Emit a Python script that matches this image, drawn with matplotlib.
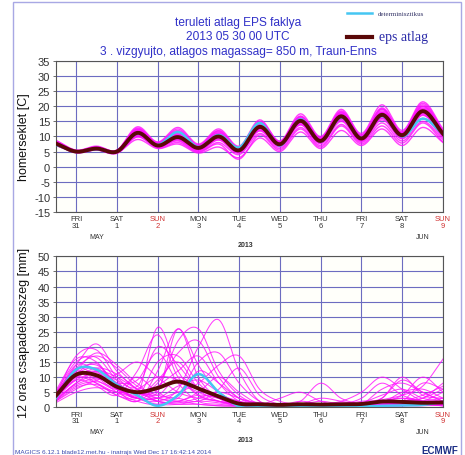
#!/usr/bin/env python3
# -*- coding: utf-8 -*-

import numpy as np
import matplotlib
matplotlib.use("Agg")
import matplotlib.pyplot as plt
from matplotlib.lines import Line2D
from matplotlib.patches import Rectangle
import matplotlib.transforms as mtransforms

# ====== DATA ======
# time axis: days since 2013-05-30 00 UTC, 12-hourly steps
steps = [0.5, 1.0, 1.5, 2.0, 2.5, 3.0, 3.5, 4.0, 4.5, 5.0,
         5.5, 6.0, 6.5, 7.0, 7.5, 8.0, 8.5, 9.0, 9.5, 10.0]

day_ticks = [1, 2, 3, 4, 5, 6, 7, 8, 9, 10]
day_names = ["FRI", "SAT", "SUN", "MON", "TUE", "WED", "THU", "FRI", "SAT", "SUN"]
day_nums = ["31", "1", "2", "3", "4", "5", "6", "7", "8", "9"]

# homerseklet [C]
temp_mean = [7.7, 5.0, 6.0, 5.0, 11.2, 7.0, 9.8, 6.2, 10.0, 5.4,
             13.2, 7.4, 15.2, 8.5, 16.7, 9.3, 17.2, 10.4, 18.4, 10.9]
temp_det = [7.3, 5.0, 5.8, 5.0, 11.0, 7.2, 11.5, 6.5, 10.5, 6.4,
            14.5, 7.0, 15.7, 8.3, 16.3, 9.5, 16.8, 10.0, 15.9, 10.8]
temp_members = [
    [8.5, 5.2, 6.3, 5.1, 12.0, 7.5, 10.5, 6.5, 11.0, 5.8, 14.0, 8.0, 16.0, 9.0, 17.5, 9.8, 18.0, 11.0, 19.5, 11.5],
    [7.0, 4.8, 5.7, 4.8, 10.5, 6.8, 9.0, 5.5, 9.0, 4.5, 12.0, 6.8, 14.0, 7.8, 15.5, 8.5, 16.0, 9.5, 17.0, 10.0],
    [8.0, 5.1, 6.5, 5.3, 12.8, 7.8, 12.5, 7.0, 12.0, 6.5, 15.0, 8.2, 16.8, 9.5, 18.5, 10.5, 19.5, 11.5, 21.0, 12.0],
    [7.5, 4.9, 5.9, 4.6, 9.0, 6.0, 7.5, 4.5, 6.5, 3.0, 9.5, 5.0, 11.5, 6.0, 12.0, 7.0, 12.5, 7.0, 13.0, 8.0],
    [8.2, 5.0, 6.0, 5.0, 11.5, 7.2, 10.0, 6.0, 10.5, 5.5, 13.5, 7.8, 15.5, 8.8, 17.0, 9.5, 17.5, 10.5, 18.5, 11.0],
    [7.8, 5.3, 6.6, 5.5, 13.2, 8.2, 13.0, 7.5, 12.5, 6.8, 15.5, 8.5, 17.5, 10.0, 19.0, 11.0, 20.5, 12.0, 21.5, 12.5],
    [7.2, 4.7, 5.5, 4.4, 10.0, 6.5, 8.5, 5.0, 8.0, 4.0, 11.0, 6.0, 13.0, 7.0, 14.0, 8.0, 14.5, 8.5, 15.0, 9.0],
    [8.0, 5.0, 6.1, 5.2, 11.0, 7.0, 9.5, 6.3, 10.0, 5.2, 13.0, 7.5, 15.0, 8.5, 16.5, 9.0, 17.0, 10.0, 18.0, 10.8],
    [7.6, 4.6, 5.6, 4.7, 10.8, 6.6, 9.2, 5.8, 9.5, 5.0, 12.5, 7.0, 14.5, 8.0, 16.0, 8.8, 16.5, 9.8, 17.5, 10.2],
    [8.8, 5.5, 6.8, 5.4, 12.5, 7.8, 11.5, 6.8, 11.5, 6.2, 14.5, 8.0, 16.5, 9.2, 18.0, 10.0, 19.0, 11.0, 20.0, 11.8],
    [7.3, 4.8, 5.8, 4.9, 11.2, 7.0, 10.2, 6.0, 10.2, 5.6, 13.2, 7.4, 15.2, 8.6, 16.8, 9.4, 17.2, 10.4, 18.2, 10.6],
    [8.3, 5.2, 6.2, 5.0, 10.2, 6.2, 8.0, 4.8, 7.5, 2.5, 10.5, 5.5, 12.5, 6.5, 13.5, 7.5, 13.5, 7.8, 14.5, 8.2],
    [7.9, 5.1, 6.4, 5.2, 11.8, 7.4, 10.8, 6.6, 10.8, 6.0, 14.2, 7.8, 15.8, 9.0, 17.2, 9.6, 18.0, 10.8, 19.0, 11.2],
    [7.1, 4.9, 5.9, 4.8, 10.6, 6.9, 9.8, 6.2, 9.8, 5.4, 12.8, 7.2, 14.8, 8.2, 16.2, 9.2, 16.8, 10.2, 17.8, 10.5],
    [8.6, 5.4, 6.5, 5.3, 12.2, 7.6, 11.0, 6.4, 11.2, 6.0, 14.8, 8.4, 16.2, 9.4, 17.8, 10.2, 18.5, 11.2, 20.0, 11.6],
    [7.4, 4.7, 5.6, 4.5, 9.8, 6.4, 8.8, 5.2, 8.8, 4.6, 11.8, 6.5, 13.8, 7.6, 15.0, 8.4, 15.5, 9.2, 16.0, 9.6],
    [8.1, 5.0, 6.0, 5.1, 11.4, 7.1, 10.0, 6.1, 10.4, 5.3, 13.6, 7.6, 15.4, 8.7, 16.6, 9.3, 17.4, 10.3, 18.6, 10.9],
    [7.7, 5.2, 6.3, 5.4, 12.4, 8.0, 12.0, 7.2, 11.8, 6.4, 14.6, 8.1, 16.6, 9.6, 18.2, 10.4, 19.2, 11.4, 20.5, 11.8],
    [7.5, 4.8, 5.7, 4.6, 10.4, 6.7, 9.4, 5.6, 9.2, 4.8, 12.2, 6.9, 14.2, 7.9, 15.6, 8.6, 16.2, 9.6, 17.2, 10.1],
    [8.4, 5.1, 6.2, 5.2, 11.6, 7.3, 10.4, 6.5, 10.6, 5.9, 13.8, 7.7, 15.6, 9.0, 17.4, 9.7, 17.8, 10.6, 19.2, 11.4],
]

# 12 oras csapadekosszeg [mm]
prec_mean = [3.8, 10.8, 10.6, 6.8, 5.0, 6.4, 8.5, 6.2, 3.6, 1.2,
             1.0, 0.8, 1.0, 0.9, 1.0, 1.1, 1.9, 1.8, 1.5, 1.6]
prec_det = [3.0, 12.5, 12.5, 7.5, 4.0, 0.5, 4.0, 11.0, 5.0, 0.3,
            0.2, 0.1, 0.1, 0.1, 0.2, 0.3, 0.5, 0.6, 0.8, 1.8]
prec_members = [
    [4.0, 14.0, 21.0, 12.0, 6.0, 3.0, 2.0, 4.0, 3.0, 1.0, 0.5, 0.5, 1.0, 0.5, 0.5, 1.0, 2.0, 3.0, 2.0, 1.0],
    [3.0, 12.0, 18.0, 14.0, 8.0, 5.0, 26.0, 10.0, 3.0, 1.0, 0.3, 0.2, 0.5, 0.5, 0.8, 1.5, 4.0, 6.0, 3.0, 2.0],
    [5.0, 15.0, 16.5, 9.0, 4.0, 26.5, 12.0, 4.0, 2.0, 0.5, 0.2, 0.5, 2.0, 1.0, 0.5, 0.5, 1.0, 1.5, 1.0, 0.5],
    [2.0, 8.0, 10.0, 6.0, 3.0, 2.0, 6.0, 20.0, 29.0, 12.0, 2.0, 1.0, 0.5, 0.3, 0.5, 1.0, 2.5, 4.0, 7.0, 16.0],
    [4.5, 11.0, 13.0, 8.0, 4.0, 2.0, 1.5, 3.0, 5.0, 3.0, 1.0, 0.5, 0.5, 1.0, 2.0, 5.0, 10.0, 6.0, 2.0, 1.0],
    [3.5, 9.0, 7.0, 4.0, 12.0, 24.0, 10.0, 5.0, 3.0, 1.0, 0.5, 0.5, 0.3, 0.3, 0.5, 1.0, 1.5, 2.0, 3.0, 8.0],
    [2.5, 7.0, 8.5, 6.0, 4.0, 8.0, 18.0, 22.0, 10.0, 3.0, 1.0, 1.0, 2.0, 8.0, 3.0, 1.0, 0.5, 0.5, 1.0, 2.0],
    [5.5, 16.0, 15.0, 7.0, 3.0, 1.0, 1.0, 2.0, 1.5, 0.5, 0.2, 0.2, 0.5, 1.0, 1.0, 2.0, 3.0, 10.0, 4.0, 3.0],
    [3.0, 10.0, 12.0, 9.0, 7.0, 20.0, 14.0, 6.0, 4.0, 2.0, 1.0, 3.0, 5.0, 2.0, 0.5, 0.5, 0.5, 1.0, 1.5, 1.0],
    [4.0, 13.0, 10.0, 5.0, 2.0, 1.0, 4.0, 15.0, 18.0, 8.0, 2.0, 0.5, 0.3, 0.3, 0.5, 0.8, 1.0, 2.0, 8.0, 6.0],
    [2.0, 6.0, 9.0, 11.0, 15.0, 10.0, 5.0, 3.0, 2.0, 1.0, 0.5, 0.3, 0.3, 0.5, 0.5, 1.0, 2.0, 3.0, 2.0, 1.5],
    [3.5, 12.0, 14.0, 8.0, 5.0, 6.0, 22.0, 26.0, 12.0, 4.0, 1.0, 0.5, 0.5, 0.5, 1.0, 0.5, 0.5, 0.8, 1.0, 0.5],
    [4.5, 10.0, 8.0, 5.0, 6.0, 10.0, 9.0, 4.0, 2.0, 1.0, 0.3, 0.2, 0.2, 0.3, 0.5, 1.0, 6.0, 8.0, 5.0, 2.0],
    [1.5, 5.0, 6.5, 5.0, 3.0, 3.0, 5.0, 8.0, 14.0, 17.0, 6.0, 2.0, 1.0, 0.5, 0.5, 0.5, 1.0, 1.0, 2.0, 5.0],
    [4.0, 17.0, 19.0, 10.0, 5.0, 3.0, 2.0, 1.0, 0.5, 0.3, 0.2, 0.2, 0.3, 0.3, 0.5, 1.0, 2.0, 4.0, 10.0, 5.0],
    [3.0, 9.0, 11.0, 7.0, 3.5, 15.0, 17.0, 8.0, 3.0, 1.0, 0.5, 0.5, 0.5, 1.0, 1.5, 1.0, 0.5, 0.5, 0.5, 1.0],
    [5.0, 12.0, 9.0, 6.0, 10.0, 5.0, 3.0, 12.0, 8.0, 3.0, 1.5, 1.0, 0.5, 0.5, 0.3, 0.5, 1.5, 5.0, 6.0, 3.0],
    [2.5, 8.0, 12.0, 10.0, 6.0, 4.0, 10.0, 6.0, 3.0, 1.5, 0.5, 0.5, 1.0, 3.0, 2.0, 1.0, 1.0, 2.0, 3.0, 6.0],
    [3.5, 11.0, 14.5, 6.0, 2.0, 12.0, 26.0, 14.0, 5.0, 2.0, 1.0, 0.5, 0.3, 0.3, 0.5, 0.5, 0.5, 1.0, 1.5, 1.0],
    [4.0, 14.0, 12.0, 6.0, 3.0, 3.0, 7.0, 9.0, 5.0, 1.0, 0.5, 0.3, 0.3, 0.5, 1.0, 3.0, 8.0, 4.0, 2.0, 1.0],
    [3.0, 7.5, 9.5, 8.0, 9.0, 18.0, 8.0, 2.0, 1.0, 0.5, 0.3, 0.3, 0.5, 0.5, 0.5, 0.5, 0.5, 1.0, 1.0, 0.5],
    [4.5, 13.0, 17.0, 13.0, 7.0, 4.0, 3.0, 2.0, 6.0, 13.0, 4.0, 1.0, 0.5, 0.3, 0.3, 0.5, 1.0, 2.0, 4.0, 7.0],
    [2.0, 6.5, 7.5, 4.0, 2.0, 7.0, 12.0, 17.0, 8.0, 2.0, 1.0, 0.5, 0.5, 0.5, 0.5, 1.0, 2.0, 1.5, 1.0, 1.5],
    [3.8, 10.5, 11.5, 7.5, 5.0, 2.0, 1.0, 1.0, 0.5, 0.5, 0.3, 0.3, 0.3, 0.3, 0.5, 0.5, 1.0, 1.5, 2.0, 3.0],
    [5.0, 11.5, 8.0, 4.0, 3.0, 9.0, 15.0, 6.0, 2.0, 1.0, 0.5, 0.5, 1.0, 2.0, 1.0, 0.5, 0.5, 0.5, 1.0, 1.0],
    [3.2, 9.5, 13.0, 11.0, 6.0, 2.0, 2.0, 5.0, 10.0, 5.0, 1.0, 0.3, 0.3, 0.3, 0.3, 0.5, 3.0, 9.0, 5.0, 2.0],
]

# ====== STYLE ======
SANS = "Liberation Sans"
SERIF = "Liberation Serif"
C_TITLE = "#3030c8"
C_GRID = "#6c6cc0"
C_MEMBER = "#ff10ff"
C_DET = "#45c6f2"
C_MEAN = "#5a0808"
C_SUN = "#d03030"


def smooth(x, y, n=12):
    """Catmull-Rom gorbe csak a rajzolashoz (MAGICS-szeru sima vonal)."""
    x = np.asarray(x, float)
    y = np.asarray(y, float)
    xp = np.concatenate([[2 * x[0] - x[1]], x, [2 * x[-1] - x[-2]]])
    yp = np.concatenate([[2 * y[0] - y[1]], y, [2 * y[-1] - y[-2]]])
    xs, ys = [], []
    t = np.linspace(0, 1, n, endpoint=False)
    for i in range(1, len(xp) - 2):
        for arr, out in ((xp, xs), (yp, ys)):
            p0, p1, p2, p3 = arr[i - 1], arr[i], arr[i + 1], arr[i + 2]
            out.append(0.5 * (2 * p1 + (-p0 + p2) * t
                              + (2 * p0 - 5 * p1 + 4 * p2 - p3) * t ** 2
                              + (-p0 + 3 * p1 - 3 * p2 + p3) * t ** 3))
    xs.append([x[-1]])
    ys.append([y[-1]])
    return np.concatenate(xs), np.concatenate(ys)


def style_axes(ax, ylim, yticks, ylabel):
    ax.set_facecolor("#fffffa")
    ax.set_xlim(0.5, 10)
    ax.set_ylim(*ylim)
    ax.set_yticks(yticks)
    ax.set_yticklabels([str(v) for v in yticks], fontsize=8, family=SANS, color="#333333")
    ax.tick_params(axis="y", length=2.5, width=0.6, pad=1.5, color="#555555")
    ax.set_xticks(day_ticks)
    ax.set_xticklabels([f"{n}\n{d}" for n, d in zip(day_names, day_nums)],
                       fontsize=5.5, family=SANS, linespacing=0.85, color="#333333")
    for lab, n in zip(ax.get_xticklabels(), day_names):
        if n == "SUN":
            lab.set_color(C_SUN)
    ax.tick_params(axis="x", length=0, pad=2.5)
    ax.grid(True, color=C_GRID, linewidth=0.8)
    ax.set_axisbelow(True)
    for sp in ax.spines.values():
        sp.set_color("#555555")
        sp.set_linewidth(0.8)
    ax.set_ylabel(ylabel, fontsize=9, family=SANS, color="#111111")
    ax.yaxis.set_label_coords(-0.066, 0.5)

    trans = mtransforms.blended_transform_factory(ax.transData, ax.transAxes)
    ax.text(1.5, -0.16, "MAY", transform=trans, ha="center", va="center",
            fontsize=5, family=SANS, color="#333333")
    ax.text(9.5, -0.16, "JUN", transform=trans, ha="center", va="center",
            fontsize=5, family=SANS, color="#333333")
    ax.text(5.15, -0.213, "2013", transform=trans, ha="center", va="center",
            fontsize=5, family=SANS, fontweight="bold", color="#333333")


def draw_plume(ax, members, det, mean, lw):
    for m in members:
        xs, ys = smooth(steps, m)
        ax.plot(xs, ys, color=C_MEMBER, linewidth=lw, alpha=0.8, zorder=2)
    xs, ys = smooth(steps, det)
    ax.plot(xs, ys, color=C_DET, linewidth=1.8, zorder=3)
    xs, ys = smooth(steps, mean)
    ax.plot(xs, ys, color=C_MEAN, linewidth=2.8, zorder=4)


def main():
    fig = plt.figure(figsize=(4.65, 4.56), dpi=100)
    fig.patch.set_facecolor("white")

    ax1 = fig.add_axes([0.1198, 0.533, 0.8329, 0.331])
    ax2 = fig.add_axes([0.1198, 0.1046, 0.8329, 0.331])

    style_axes(ax1, (-15, 35), list(range(-15, 36, 5)), "homerseklet [C]")
    style_axes(ax2, (0, 50), list(range(0, 51, 5)), "12 oras csapadekosszeg [mm]")

    draw_plume(ax1, temp_members, temp_det, temp_mean, 1.0)
    draw_plume(ax2, prec_members, prec_det, prec_mean, 0.75)

    # keret
    fig.add_artist(Rectangle((0.028, -0.02), 0.963, 1.013, transform=fig.transFigure,
                             fill=False, edgecolor="#a8a8e4", linewidth=1.0))

    # cimek
    for y, s in [(0.949, "teruleti atlag EPS faklya"),
                 (0.918, "2013 05 30 00 UTC"),
                 (0.886, "3 . vizgyujto, atlagos magassag= 850 m, Traun-Enns")]:
        fig.text(0.512, y, s, ha="center", va="center", fontsize=8.6,
                 family=SANS, color=C_TITLE)

    # jelmagyarazat
    fig.add_artist(Line2D([0.746, 0.800], [0.969, 0.969], transform=fig.transFigure,
                          color=C_DET, linewidth=1.8))
    fig.add_artist(Line2D([0.746, 0.800], [0.917, 0.917], transform=fig.transFigure,
                          color=C_MEAN, linewidth=3))
    fig.text(0.812, 0.969, "determinisztikus", ha="left", va="center", fontsize=5,
             family=SERIF, color="#333366")
    fig.text(0.816, 0.917, "eps atlag", ha="left", va="center", fontsize=10,
             family=SERIF, color="#2a2aa8")

    # lablec
    fig.text(0.032, 0.007, "MAGICS 6.12.1 blade12.met.hu - inatrajs Wed Dec 17 16:42:14 2014",
             ha="left", va="center", fontsize=4.6, family=SANS, color="#3b4bb0")
    fig.text(0.985, 0.011, "ECMWF", ha="right", va="center", fontsize=7,
             family=SANS, fontweight="bold", color="#1c2f86")

    fig.savefig("out.png", dpi=100)
    plt.close(fig)


if __name__ == "__main__":
    main()
